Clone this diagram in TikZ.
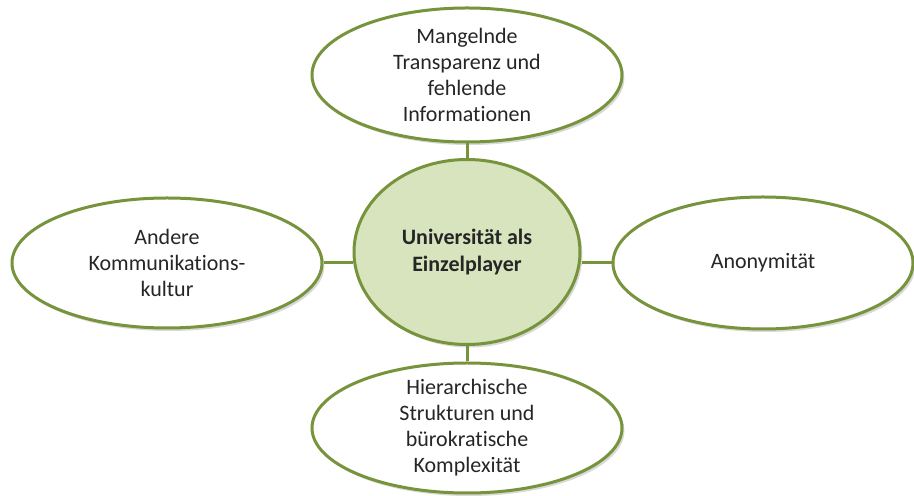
\documentclass[tikz,border=0pt]{standalone}
\usepackage{fontspec}
\setmainfont{Carlito}[Ligatures=NoCommon]
\usetikzlibrary{shapes.geometric,positioning,shadows}
\definecolor{olive}{HTML}{77933C}
\definecolor{palegreen}{HTML}{D7E4BD}
\definecolor{ink}{HTML}{262626}

\begin{document}
\begin{tikzpicture}[node distance=88.5pt,on grid,
  every node/.style={font=\fontsize{11}{13}\selectfont,text=ink,align=center},
  bubble/.style={ellipse,draw=olive,line width=1.5pt,fill=white,inner sep=-3pt,
    drop shadow={shadow xshift=1.2pt,shadow yshift=-1.5pt,opacity=0.3}},
  link/.style={draw=olive,line width=1.5pt}]
\useasboundingbox (-233.5pt,126pt) rectangle (223.5pt,-122pt);
\node[bubble,fill=palegreen,minimum width=113pt,minimum height=92.5pt,
  font=\bfseries\fontsize{11}{13.5}\selectfont] (uni) {Universität als\\Einzelplayer};
\node[bubble,minimum width=155pt,minimum height=67pt] (info) [above=of uni]
  {Mangelnde\\Transparenz und\\fehlende\\Informationen};
\node[bubble,minimum width=155pt,minimum height=65pt] (hier) [below=88pt of uni]
  {Hierarchische\\Strukturen und\\bürokratische\\Komplexität};
\node[bubble,minimum width=155pt,minimum height=65pt] (komm) [left=150pt of uni,yshift=-5.5pt]
  {Andere\\Kommunikations-\\kultur};
\node[bubble,minimum width=150pt,minimum height=66pt] (anon) [right=148pt of uni,yshift=-5.5pt]
  {Anonymität};
\path[link]
	(info) edge (uni)
	(hier) edge (uni)
	(komm.east) edge (komm.east -| uni.west)
	(anon.west) edge (anon.west -| uni.east);
\end{tikzpicture}
\end{document}
